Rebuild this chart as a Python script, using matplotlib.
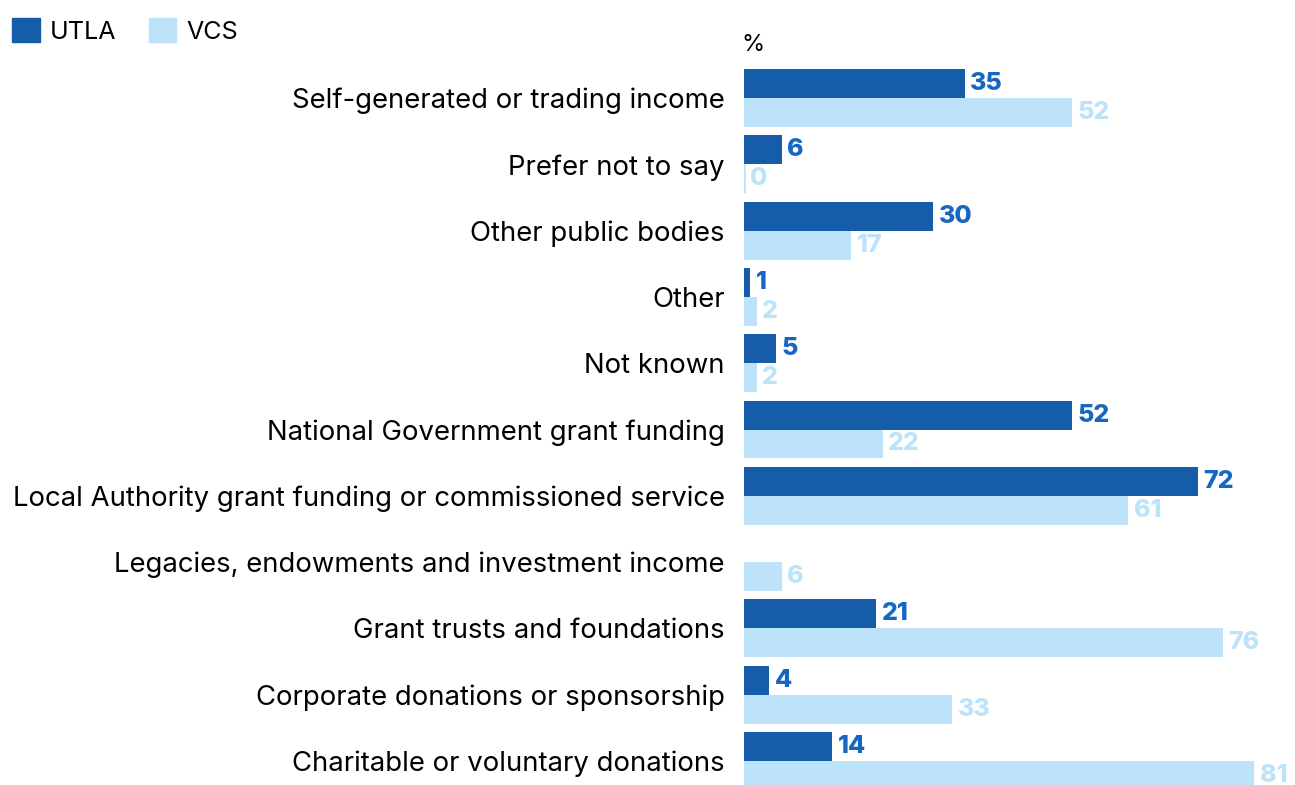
import numpy as np
import matplotlib.pyplot as plt

plt.rcParams['font.family'] = ['Inter', 'DejaVu Sans']

# funding sources, listed top to bottom
categories = [
    "Self-generated or trading income",
    "Prefer not to say",
    "Other public bodies",
    "Other",
    "Not known",
    "National Government grant funding",
    "Local Authority grant funding or commissioned service",
    "Legacies, endowments and investment income",
    "Grant trusts and foundations",
    "Corporate donations or sponsorship",
    "Charitable or voluntary donations",
]
utla = [35, 6, 30, 1, 5, 52, 72, None, 21, 4, 14]
vcs = [52, 0, 17, 2, 2, 22, 61, 6, 76, 33, 81]

UTLA_COL = "#155DA8"
UTLA_TXT = "#1766C2"
VCS_COL = "#BDE3FA"

fig = plt.figure(figsize=(12.95, 7.85), dpi=100)
ax = fig.add_axes([744 / 1295, 0, 1 - 744 / 1295, 1])

n = len(categories)
ypos = np.arange(n)[::-1]
h = 0.437
off = h / 2

for y, u, v in zip(ypos, utla, vcs):
    if u is not None:
        ax.barh(y + off, u, height=h, color=UTLA_COL, linewidth=0)
        ax.text(u + 0.9, y + off, str(u), va="center", ha="left",
                fontsize=18, fontweight="heavy", color=UTLA_TXT)
    if v is not None:
        ax.barh(y - off, v, height=h, color=VCS_COL,
                edgecolor=VCS_COL, linewidth=2 if v == 0 else 0)
        ax.text(v + 0.9, y - off, str(v), va="center", ha="left",
                fontsize=18, fontweight="heavy", color=VCS_COL)

ax.set_xlim(0, (1295 - 744) / 6.3)
ax.set_ylim(-24 / 66.3, 761 / 66.3)
ax.set_yticks(ypos)
ax.set_yticklabels(categories, fontsize=19.8)
ax.tick_params(axis="y", length=0, pad=14)
ax.set_xticks([])
for s in ax.spines.values():
    s.set_visible(False)

ax.text(-0.35, (761 - 45) / 66.3, "%", fontsize=17, ha="left", va="center")

handles = [plt.Rectangle((0, 0), 1, 1, color=UTLA_COL),
           plt.Rectangle((0, 0), 1, 1, color=VCS_COL)]
fig.legend(handles, ["UTLA", "VCS"], loc="upper left",
           bbox_to_anchor=(-0.004, 0.999), ncol=2, frameon=False, fontsize=18,
           handlelength=1.1, handleheight=1.1, handletextpad=0.4,
           columnspacing=1.3, borderaxespad=0.3)

fig.savefig("out.png", dpi=100)
